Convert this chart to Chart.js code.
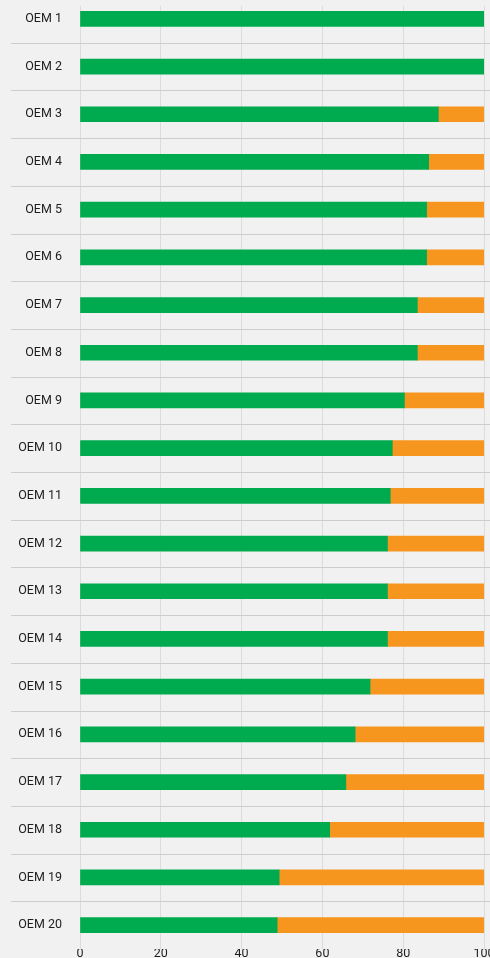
<!DOCTYPE html>
<html>
<head>
<meta charset="utf-8">
<script src="https://cdn.jsdelivr.net/npm/chart.js@4"></script>
<style>
  html, body { margin: 0; padding: 0; background: #f1f1f1; overflow: hidden; }
  #oemChart { position: absolute; left: 0; top: -5px; }
</style>
</head>
<body>
<canvas id="oemChart" width="490" height="963"></canvas>
<script>
// Data
const oems = ['OEM 1', 'OEM 2', 'OEM 3', 'OEM 4', 'OEM 5', 'OEM 6', 'OEM 7', 'OEM 8', 'OEM 9', 'OEM 10',
              'OEM 11', 'OEM 12', 'OEM 13', 'OEM 14', 'OEM 15', 'OEM 16', 'OEM 17', 'OEM 18', 'OEM 19', 'OEM 20'];
const greenShare = [100, 100, 88.7, 86.3, 85.8, 85.8, 83.5, 83.5, 80.3, 77.3,
                    76.8, 76.1, 76.1, 76.1, 71.8, 68.1, 65.8, 61.8, 49.3, 48.8];
const orangeShare = [0, 0, 11.3, 13.7, 14.2, 14.2, 16.5, 16.5, 19.7, 22.7,
                     23.2, 23.9, 23.9, 23.9, 28.2, 31.9, 34.2, 38.2, 50.7, 51.2];
const xTicks = [0, 20, 40, 60, 80, 100];

// lines between the categories, running into the label area;
// also trims the vertical grid so it starts a little below the top
const separators = {
    id: 'separators',
    beforeDatasetsDraw(chart) {
        const ctx = chart.ctx;
        const y = chart.scales.y;
        ctx.save();
        ctx.fillStyle = '#f1f1f1';
        ctx.fillRect(chart.chartArea.left - 2, 0, chart.width, 11);
        ctx.strokeStyle = '#cdcdcd';
        ctx.lineWidth = 1;
        for (let i = 0; i < oems.length - 1; i++) {
            const py = Math.round((y.getPixelForValue(i) + y.getPixelForValue(i + 1)) / 2) + 0.5;
            ctx.beginPath();
            ctx.moveTo(11, py);
            ctx.lineTo(chart.width, py);
            ctx.stroke();
        }
        ctx.restore();
    }
};

const labelFont = { family: 'Roboto', size: 12.5 };

const ctx = document.getElementById('oemChart').getContext('2d');
new Chart(ctx, {
    type: 'bar',
    data: {
        labels: oems,
        datasets: [
            { data: greenShare, backgroundColor: '#00aa4f', barThickness: 15 },
            { data: orangeShare, backgroundColor: '#f7961f', barThickness: 15 }
        ]
    },
    options: {
        indexAxis: 'y',
        responsive: false,
        animation: false,
        layout: { padding: { top: 0, right: 6, bottom: 0, left: 0 } },
        plugins: { legend: { display: false }, tooltip: { enabled: false } },
        scales: {
            x: {
                stacked: true,
                min: 0,
                max: 100,
                afterBuildTicks: (axis) => { axis.ticks = xTicks.map(v => ({ value: v })); },
                afterFit: (axis) => { axis.paddingLeft = 0; axis.paddingRight = 0; },
                grid: { color: '#dcdcdc', drawTicks: false },
                border: { display: false },
                ticks: { color: '#1e1e1e', padding: -3, font: labelFont }
            },
            y: {
                stacked: true,
                grid: { display: false, drawTicks: false },
                border: { display: false },
                afterFit: (axis) => { axis.width = 80; axis.paddingTop = 0; axis.paddingBottom = 0; },
                ticks: { color: '#1e1e1e', padding: 18, font: labelFont }
            }
        }
    },
    plugins: [separators]
});
</script>
</body>
</html>
